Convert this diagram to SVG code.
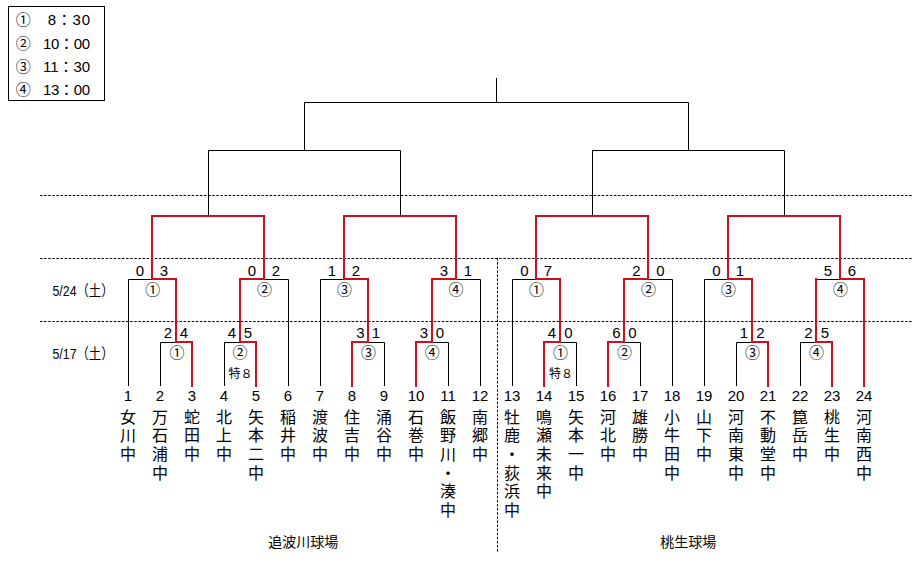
<svg xmlns="http://www.w3.org/2000/svg" width="924" height="564" viewBox="0 0 924 564">
<style>
.bg{fill:#ffffff}
.blk{fill:none;stroke:#000;stroke-width:1}
.red{fill:none;stroke:#cc1020;stroke-width:2;stroke-linejoin:miter;stroke-linecap:square}
.dot{fill:none;stroke:#000;stroke-width:1;stroke-dasharray:2.5 1.6}
.num{font-family:"Liberation Sans","Noto Sans CJK JP",sans-serif;font-size:15px;text-anchor:middle;fill:#000}
.sc{font-family:"Liberation Sans","Noto Sans CJK JP",sans-serif;font-size:15px;text-anchor:middle;fill:#000}
.cir{font-family:"Noto Sans CJK JP",sans-serif;font-size:15px;text-anchor:middle;fill:#000}
.name{font-family:"Noto Sans CJK JP",sans-serif;font-size:16px;fill:#000;writing-mode:vertical-rl;text-orientation:upright;letter-spacing:2.6px}
.small{font-family:"Noto Sans CJK JP",sans-serif;font-size:12px;fill:#000}
.lab{font-family:"Liberation Sans","Noto Sans CJK JP",sans-serif;font-size:15px;fill:#000}
.venue{font-family:"Noto Sans CJK JP",sans-serif;font-size:14px;text-anchor:middle;fill:#000}
</style>
<rect class="bg" x="0" y="0" width="924" height="564"/>

<g id="legend">
<rect x="8.5" y="6.5" width="96" height="94" fill="none" stroke="#000" stroke-width="1"/>
<text class="cir" x="23.3" y="25">①</text><text class="lab" x="47.7" y="25" textLength="42.3" lengthAdjust="spacing">8：30</text>
<text class="cir" x="23.3" y="49">②</text><text class="lab" x="43" y="49" textLength="47" lengthAdjust="spacing">10：00</text>
<text class="cir" x="23.3" y="72.4">③</text><text class="lab" x="43" y="72.4" textLength="47" lengthAdjust="spacing">11：30</text>
<text class="cir" x="23.3" y="95">④</text><text class="lab" x="43" y="95" textLength="47" lengthAdjust="spacing">13：00</text>
</g>

<g id="grid">
<line class="dot" x1="40" y1="195.5" x2="912" y2="195.5"/>
<line class="dot" x1="40" y1="258.5" x2="912" y2="258.5"/>
<line class="dot" x1="40" y1="321.5" x2="912" y2="321.5"/>
<line class="dot" x1="497.5" y1="258" x2="497.5" y2="552"/>
</g>

<g id="dates">
<text class="lab" x="52.5" y="295.5" textLength="61" lengthAdjust="spacingAndGlyphs">5/24（土）</text>
<text class="lab" x="52.5" y="359" textLength="61" lengthAdjust="spacingAndGlyphs">5/17（土）</text>
</g>

<g id="connectors">
<path class="blk" d="M496.5,78 V102.5 M304.5,102.5 H688.5 M304.5,102.5 V150.5 M688.5,102.5 V150.5
M208.5,150.5 H400.5 M208.5,150.5 V216 M400.5,150.5 V216
M592.5,150.5 H784.5 M592.5,150.5 V216 M784.5,150.5 V216
M128.5,279.5 H152 M128.5,279.5 V386 M160.5,342.5 H176 M160.5,342.5 V386 M224.5,342.5 H240 M224.5,342.5 V386 M264,279.5 H288.5 V386
M320.5,279.5 H344 M320.5,279.5 V386 M368,342.5 H384.5 V386 M432,342.5 H448.5 V386 M456,279.5 H480.5 V386
M512.5,279.5 H536 M512.5,279.5 V386 M560,342.5 H576.5 V386 M624,342.5 H640.5 V386 M648,279.5 H672.5 V386
M704.5,279.5 H728 M704.5,279.5 V386 M736.5,342.5 H752 M736.5,342.5 V386 M800.5,342.5 H816 M800.5,342.5 V386 M816,279.5 H840"/>
<polyline class="red" points="192,386 192,342 176,342 176,279 152,279 152,216 264,216 264,279 240,279 240,342 256,342 256,386"/>
<polyline class="red" points="352,386 352,342 368,342 368,279 344,279 344,216 456,216 456,279 432,279 432,342 416,342 416,386"/>
<polyline class="red" points="544,386 544,342 560,342 560,279 536,279 536,216 648,216 648,279 624,279 624,342 608,342 608,386"/>
<polyline class="red" points="768,386 768,342 752,342 752,279 728,279 728,216 840,216 840,279 864,279 864,386"/>
<polyline class="red" points="816,279 816,342 832,342 832,386"/>
</g>

<g id="games">
<g id="gA-r2-1"><text class="sc" x="140" y="275.5">0</text><text class="sc" x="164" y="275.5">3</text><text class="cir" x="152.7" y="295">①</text></g>
<g id="gA-r1-1"><text class="sc" x="168" y="338">2</text><text class="sc" x="184" y="338">4</text><text class="cir" x="177" y="358.4">①</text></g>
<g id="gA-r1-2"><text class="sc" x="232" y="338">4</text><text class="sc" x="248" y="338">5</text><text class="cir" x="240" y="358.4">②</text><text class="small" x="228.5" y="378">特８</text></g>
<g id="gA-r2-2"><text class="sc" x="252" y="275.5">0</text><text class="sc" x="276" y="275.5">2</text><text class="cir" x="264.5" y="295">②</text></g>

<g id="gB-r2-3"><text class="sc" x="332" y="275.5">1</text><text class="sc" x="356" y="275.5">2</text><text class="cir" x="344.5" y="295">③</text></g>
<g id="gB-r1-3"><text class="sc" x="360.5" y="338">3</text><text class="sc" x="376" y="338">1</text><text class="cir" x="368.5" y="358.4">③</text></g>
<g id="gB-r1-4"><text class="sc" x="424" y="338">3</text><text class="sc" x="440" y="338">0</text><text class="cir" x="432.3" y="358.4">④</text></g>
<g id="gB-r2-4"><text class="sc" x="444" y="275.5">3</text><text class="sc" x="468" y="275.5">1</text><text class="cir" x="456" y="295">④</text></g>

<g id="gC-r2-1"><text class="sc" x="524.5" y="275.5">0</text><text class="sc" x="548" y="275.5">7</text><text class="cir" x="536.5" y="295">①</text></g>
<g id="gC-r1-1"><text class="sc" x="552" y="338">4</text><text class="sc" x="568.5" y="338">0</text><text class="cir" x="560.5" y="358.4">①</text><text class="small" x="549" y="378">特８</text></g>
<g id="gC-r1-2"><text class="sc" x="616.5" y="338">6</text><text class="sc" x="632.5" y="338">0</text><text class="cir" x="624.5" y="358.4">②</text></g>
<g id="gC-r2-2"><text class="sc" x="636.5" y="275.5">2</text><text class="sc" x="660.5" y="275.5">0</text><text class="cir" x="648.5" y="295">②</text></g>

<g id="gD-r2-3"><text class="sc" x="716.5" y="275.5">0</text><text class="sc" x="740" y="275.5">1</text><text class="cir" x="728.5" y="295">③</text></g>
<g id="gD-r1-3"><text class="sc" x="744" y="338">1</text><text class="sc" x="760.5" y="338">2</text><text class="cir" x="752.5" y="358.4">③</text></g>
<g id="gD-r1-4"><text class="sc" x="808.5" y="338">2</text><text class="sc" x="825" y="338">5</text><text class="cir" x="816.5" y="358.4">④</text></g>
<g id="gD-r2-4"><text class="sc" x="828" y="275.5">5</text><text class="sc" x="852" y="275.5">6</text><text class="cir" x="840.5" y="295">④</text></g>
</g>

<g id="teams">
<g id="team-1"><text class="num" x="128" y="400.5">1</text><text class="name" x="128" y="408.7">女川中</text></g>
<g id="team-2"><text class="num" x="160" y="400.5">2</text><text class="name" x="160" y="408.7">万石浦中</text></g>
<g id="team-3"><text class="num" x="192" y="400.5">3</text><text class="name" x="192" y="408.7">蛇田中</text></g>
<g id="team-4"><text class="num" x="224" y="400.5">4</text><text class="name" x="224" y="408.7">北上中</text></g>
<g id="team-5"><text class="num" x="256" y="400.5">5</text><text class="name" x="256" y="408.7">矢本二中</text></g>
<g id="team-6"><text class="num" x="288" y="400.5">6</text><text class="name" x="288" y="408.7">稲井中</text></g>
<g id="team-7"><text class="num" x="320" y="400.5">7</text><text class="name" x="320" y="408.7">渡波中</text></g>
<g id="team-8"><text class="num" x="352" y="400.5">8</text><text class="name" x="352" y="408.7">住吉中</text></g>
<g id="team-9"><text class="num" x="384" y="400.5">9</text><text class="name" x="384" y="408.7">涌谷中</text></g>
<g id="team-10"><text class="num" x="416" y="400.5">10</text><text class="name" x="416" y="408.7">石巻中</text></g>
<g id="team-11"><text class="num" x="448" y="400.5">11</text><text class="name" x="448" y="408.7">飯野川・湊中</text></g>
<g id="team-12"><text class="num" x="480" y="400.5">12</text><text class="name" x="480" y="408.7">南郷中</text></g>
<g id="team-13"><text class="num" x="512" y="400.5">13</text><text class="name" x="512" y="408.7">牡鹿・荻浜中</text></g>
<g id="team-14"><text class="num" x="544" y="400.5">14</text><text class="name" x="544" y="408.7">鳴瀬未来中</text></g>
<g id="team-15"><text class="num" x="576" y="400.5">15</text><text class="name" x="576" y="408.7">矢本一中</text></g>
<g id="team-16"><text class="num" x="608" y="400.5">16</text><text class="name" x="608" y="408.7">河北中</text></g>
<g id="team-17"><text class="num" x="640" y="400.5">17</text><text class="name" x="640" y="408.7">雄勝中</text></g>
<g id="team-18"><text class="num" x="672" y="400.5">18</text><text class="name" x="672" y="408.7">小牛田中</text></g>
<g id="team-19"><text class="num" x="704" y="400.5">19</text><text class="name" x="704" y="408.7">山下中</text></g>
<g id="team-20"><text class="num" x="736" y="400.5">20</text><text class="name" x="736" y="408.7">河南東中</text></g>
<g id="team-21"><text class="num" x="768" y="400.5">21</text><text class="name" x="768" y="408.7">不動堂中</text></g>
<g id="team-22"><text class="num" x="800" y="400.5">22</text><text class="name" x="800" y="408.7">箟岳中</text></g>
<g id="team-23"><text class="num" x="832" y="400.5">23</text><text class="name" x="832" y="408.7">桃生中</text></g>
<g id="team-24"><text class="num" x="864" y="400.5">24</text><text class="name" x="864" y="408.7">河南西中</text></g>
</g>

<g id="venues">
<text class="venue" x="303.3" y="547">追波川球場</text>
<text class="venue" x="688.3" y="547">桃生球場</text>
</g>
</svg>
